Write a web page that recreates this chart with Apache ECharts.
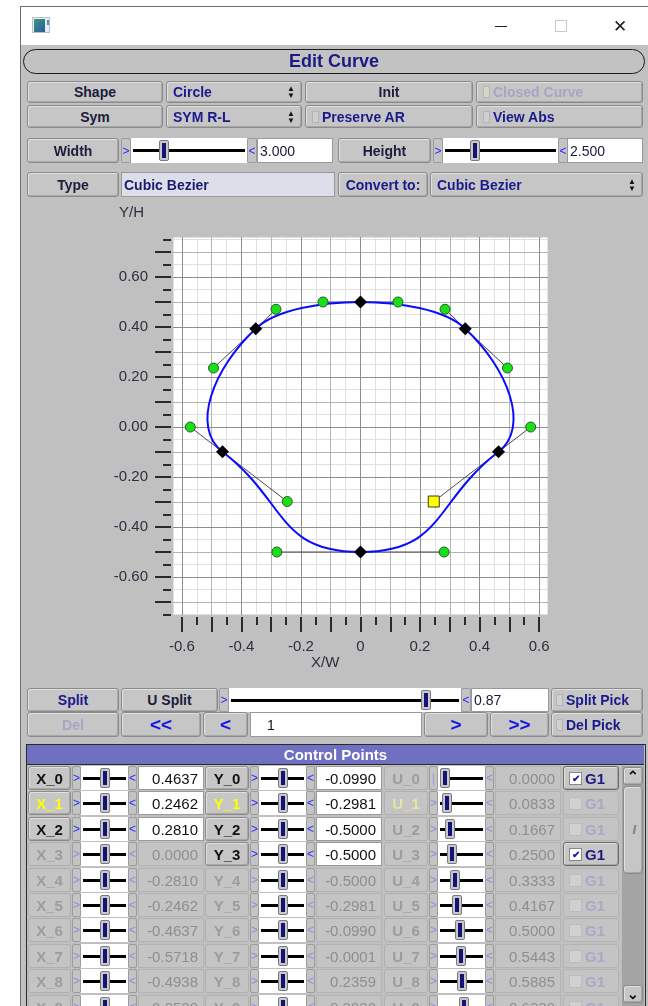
<!DOCTYPE html>
<html><head><meta charset="utf-8">
<script src="https://cdn.jsdelivr.net/npm/echarts@6/dist/echarts.min.js"></script>
<style>
html,body{margin:0;padding:0;width:648px;height:1006px;overflow:hidden;background:#fff;font-family:"Liberation Sans",Arial,sans-serif;}
#win{position:absolute;left:20px;top:6px;width:628px;height:1000px;background:#c0c0c0;border-left:1px solid #6e6e6e;border-top:1px solid #6e6e6e;box-sizing:border-box;}
#title{position:absolute;left:21px;top:7px;width:627px;height:38px;background:#fff;}
#chart{position:absolute;left:0;top:0;width:648px;height:1006px;z-index:1;}
.ui{position:absolute;z-index:2;box-sizing:border-box;white-space:nowrap;overflow:hidden;}
.btn{background:#c6c6c6;border:1px solid #8a8a8a;border-radius:3px;box-shadow:inset 1px 1px 0 #e0e0e0,inset -1px -1px 0 #a8a8a8;font-weight:bold;font-size:14px;color:#1c1c3c;display:flex;align-items:center;justify-content:center;}
.left{justify-content:flex-start;padding-left:6px;}
.blue{color:#1a1a8c;}
.dis{color:#a6a6c4;}
.field{background:#fff;border:1px solid #9a9a9a;font-size:14px;color:#111;display:flex;align-items:center;padding-left:2px;}
.arr{background:#c4c4c4;border:1px solid #9c9c9c;border-radius:2px;color:#2a2aff;font-size:12px;display:flex;align-items:center;justify-content:center;}
.track{background:#fff;}
.cb{display:inline-block;width:7px;height:12px;border:1px solid #b4b4b4;background:#cfcfcf;margin-right:3px;box-sizing:border-box;flex:none;}
.ud{position:absolute;right:6px;top:50%;transform:translateY(-50%);font-size:8px;line-height:7px;color:#111;text-align:center;}
</style></head>
<body>
<div id="win"></div>
<div id="title"></div>
<div id="chart"></div>
<script>
// ---------------- data ----------------
const ctrlX = [0.4637, 0.2462, 0.2810, 0.0000, -0.2810, -0.2462, -0.4637, -0.5718, -0.4938, -0.3520, -0.2840, -0.1260, 0.0000, 0.1260, 0.2840, 0.3520, 0.4938, 0.5718];
const ctrlY = [-0.0990, -0.2981, -0.5000, -0.5000, -0.5000, -0.2981, -0.0990, -0.0001, 0.2359, 0.3930, 0.4710, 0.5000, 0.5000, 0.5000, 0.4710, 0.3930, 0.2359, -0.0001];
const uVals = [0.0000, 0.0833, 0.1667, 0.2500, 0.3333, 0.4167, 0.5000, 0.5443, 0.5885, 0.6330];
const selectedPoint = 1;
const xTickLabels = [-0.6, -0.4, -0.2, 0, 0.2, 0.4, 0.6];
const yTickLabels = [-0.6, -0.4, -0.2, 0, 0.2, 0.4, 0.6];
const xMajorTicks = [-0.6, -0.5, -0.4, -0.3, -0.2, -0.1, 0, 0.1, 0.2, 0.3, 0.4, 0.5, 0.6];
const xMinorTicks = [-0.55, -0.45, -0.35, -0.25, -0.15, -0.05, 0.05, 0.15, 0.25, 0.35, 0.45, 0.55];
const yMajorTicks = [-0.7, -0.6, -0.5, -0.4, -0.3, -0.2, -0.1, 0, 0.1, 0.2, 0.3, 0.4, 0.5, 0.6, 0.7];
const yMinorTicks = [-0.75, -0.65, -0.55, -0.45, -0.35, -0.25, -0.15, -0.05, 0.05, 0.15, 0.25, 0.35, 0.45, 0.55, 0.65, 0.75];
const X_MIN = -0.63, X_MAX = 0.63, Y_MIN = -0.752, Y_MAX = 0.76;

// ---------------- UI chrome ----------------
function add(x, y, w, h, cls, html, css) {
  const d = document.createElement('div');
  d.className = 'ui ' + (cls || '');
  d.style.left = x + 'px'; d.style.top = y + 'px'; d.style.width = w + 'px'; d.style.height = h + 'px';
  if (html != null) d.innerHTML = html;
  if (css) d.style.cssText += css;
  document.body.appendChild(d);
  return d;
}
const UD = '<span class="ud">&#9650;<br>&#9660;</span>';
function slider(x, y, w, h, frac, opts) {
  opts = opts || {};
  const aw = opts.aw || 10;
  add(x, y, aw, h, 'arr', opts.noLeft ? '<span style="color:#9a9ae0">|</span>' : '&gt;', opts.arrCol ? 'color:' + opts.arrCol : '');
  const t = add(x + aw, y, w - 2 * aw, h, 'track');
  const tw = w - 2 * aw;
  const tx = Math.round(2 + frac * (tw - 14));
  t.innerHTML = '<div style="position:absolute;left:2px;right:2px;top:' + (h / 2 - 1.5) + 'px;height:3px;background:#000"></div>' +
    '<div style="position:absolute;left:' + tx + 'px;top:2px;width:10px;height:' + (h - 4) + 'px;background:#c8c8c8;border:1px solid #7a7a7a;border-radius:2px;box-sizing:border-box">' +
    '<div style="position:absolute;left:2px;top:2px;width:4px;bottom:2px;background:#141478"></div></div>';
  add(x + w - aw, y, aw, h, 'arr', '&lt;', opts.arrCol ? 'color:' + opts.arrCol : '');
}
// title bar
add(32, 17, 18, 16, '', '<div style="position:absolute;left:1px;top:1px;width:11px;height:13px;background:linear-gradient(135deg,#3a9a7a,#2a5aa0)"></div><div style="position:absolute;left:14px;top:2px;width:3px;height:5px;background:#5a8ab0"></div>', 'background:#e8eef0;border:1px solid #b8c0c8;');
add(495, 26, 12, 1, '', '', 'background:#222;');
add(555, 20, 12, 12, '', '', 'border:1px solid #c8c8c8;');
add(610, 16, 20, 20, '', '&#10005;', 'font-size:17px;color:#222;text-align:center;line-height:20px;font-family:"DejaVu Sans";');
// Edit curve pill
add(23, 49, 622, 25, '', 'Edit Curve', 'border:1.5px solid #1a1a1a;border-radius:13px;background:#c2c2c2;display:flex;align-items:center;justify-content:center;font-weight:bold;font-size:18px;color:#1a1a82;');
// Row 1
add(27, 81, 136, 22, 'btn', 'Shape');
add(166, 81, 136, 22, 'btn left blue', 'Circle' + UD);
add(305, 81, 168, 22, 'btn', 'Init');
add(476, 81, 167, 22, 'btn left dis', '<span class="cb" style="background:#d6d6c2"></span>Closed Curve');
// Row 2
add(27, 105, 136, 23, 'btn', 'Sym');
add(166, 105, 136, 23, 'btn left blue', 'SYM R-L' + UD);
add(305, 105, 168, 23, 'btn left blue', '<span class="cb"></span>Preserve AR');
add(476, 105, 167, 23, 'btn left blue', '<span class="cb"></span>View Abs');
// Row 3
add(27, 138, 92, 25, 'btn', 'Width');
slider(121, 138, 136, 25, 0.25);
add(257, 138, 76, 25, 'field', '3.000', 'color:#1a1a3a;');
add(338, 138, 93, 25, 'btn', 'Height');
slider(433, 138, 135, 25, 0.25);
add(567, 138, 76, 25, 'field', '2.500', 'color:#1a1a3a;');
// Row 4
add(27, 172, 92, 25, 'btn', 'Type');
add(121, 172, 214, 25, 'field', 'Cubic Bezier', 'background:#dedeea;font-weight:bold;color:#1a1a70;');
add(338, 172, 90, 25, 'btn blue', 'Convert to:');
add(430, 172, 213, 25, 'btn left blue', 'Cubic Bezier' + UD);
// Split row
add(27, 688, 92, 24, 'btn blue', 'Split');
add(121, 688, 97, 24, 'btn', 'U Split');
slider(219, 688, 252, 24, 0.87);
add(471, 688, 78, 24, 'field', '0.87', 'color:#1a1a3a;');
add(551, 688, 92, 24, 'btn left blue', '<span class="cb"></span>Split Pick', 'padding-left:4px;');
// Del row
add(27, 712, 92, 25, 'btn dis', 'Del');
add(121, 712, 80, 25, 'btn', '&lt;&lt;', 'color:#1515e0;font-size:19px;');
add(203, 712, 45, 25, 'btn', '&lt;', 'color:#1515e0;font-size:19px;');
add(250, 712, 172, 25, 'field', '1', 'padding-left:16px;color:#111;');
add(424, 712, 64, 25, 'btn', '&gt;', 'color:#1515e0;font-size:19px;');
add(490, 712, 59, 25, 'btn', '&gt;&gt;', 'color:#1515e0;font-size:19px;');
add(551, 712, 92, 25, 'btn left blue', '<span class="cb"></span>Del Pick', 'padding-left:4px;');
// Control points table
add(26, 744, 620, 264, '', '', 'border:1px solid #2a2a2a;background:#c0c0c0;');
add(27, 745, 617, 20, '', 'Control Points', 'background:#7070c2;border-bottom:1px solid #2a2a2a;color:#fff;font-weight:bold;font-size:15px;display:flex;align-items:center;justify-content:center;');
const rowState = [
  {x: 'on', y: 'on', u: 'off', g: 'chk'},
  {x: 'sel', y: 'sel', u: 'selOff', g: 'off'},
  {x: 'on', y: 'on', u: 'off', g: 'off'},
  {x: 'off', y: 'on', u: 'off', g: 'chk'},
  {x: 'off', y: 'off', u: 'off', g: 'off'},
  {x: 'off', y: 'off', u: 'off', g: 'off'},
  {x: 'off', y: 'off', u: 'off', g: 'off'},
  {x: 'off', y: 'off', u: 'off', g: 'off'},
  {x: 'off', y: 'off', u: 'off', g: 'off'},
  {x: 'off', y: 'off', u: 'off', g: 'off'}
];
function cell(x, top, lw, name, state, valStr, frac, uCol) {
  const labCol = state === 'on' ? '#111' : state === 'sel' ? '#ffff00' : state === 'selOff' ? '#e6e6a0' : '#9c9c9c';
  add(x, top, lw, 24, 'btn', name, 'color:' + labCol + ';font-size:15px;' + (state === 'off' || state === 'selOff' ? 'border-color:#b0b0b0;box-shadow:none;background:#c4c4c4;' : ''));
  const en = state === 'on' || state === 'sel';
  slider(x + lw + 1, top, 65, 24, frac, {aw: 9, arrCol: en ? '#2a2aff' : '#8c8cdc', noLeft: uCol && frac === 0});
  const vx = x + lw + 67;
  add(vx, top, 66, 24, 'field', valStr, 'justify-content:flex-end;padding-right:5px;font-size:15px;' + (en ? '' : 'background:#c4c4c4;border-color:#b4b4b4;color:#8e8e8e;'));
}
for (let i = 0; i < 10; i++) {
  const top = Math.round(766 + i * 25.4);
  const st = rowState[i];
  cell(28, top, 43, 'X_' + i, st.x, ctrlX[i].toFixed(4), 0.5, false);
  cell(205, top, 44, 'Y_' + i, st.y, ctrlY[i].toFixed(4), 0.5, false);
  cell(384, top, 44, 'U_' + i, st.u, uVals[i].toFixed(4), uVals[i] * 0.9, true);
  if (st.g === 'chk') add(563, top, 56, 24, 'btn left', '<span style="display:inline-block;width:11px;height:11px;background:#fff;border:1px solid #888;margin-right:3px;font-size:10px;line-height:11px;text-align:center;color:#1a1aa0">&#10004;</span>G1', 'color:#1a1a82;font-size:15px;padding-left:5px;border-color:#6a6a6a;');
  else add(563, top, 56, 24, 'btn left', '<span style="display:inline-block;width:11px;height:11px;background:#d0d0d0;border:1px solid #bcbcbc;margin-right:3px"></span>G1', 'color:#a8a8c8;font-size:15px;padding-left:5px;border-color:#b4b4b4;box-shadow:none;background:#c4c4c4;');
}
// scrollbar
add(622, 766, 22, 240, '', '', 'background:#a4a4a4;');
add(623, 767, 20, 18, 'btn', '&#8963;', 'font-size:14px;color:#111;');
add(623, 786, 20, 88, 'btn', '<span style="font-size:12px;color:#888;letter-spacing:-3px">///</span>', 'border-radius:4px;');
add(623, 985, 20, 18, 'btn', '&#8964;', 'font-size:14px;color:#111;');

// ---------------- chart ----------------
const N = ctrlX.length;
const segData = [], handleData = [];
for (let k = 0; k < N / 3; k++) {
  const a = 3 * k, b = a + 1, c = a + 2, d = (a + 3) % N;
  segData.push([ctrlX[a], ctrlY[a], ctrlX[b], ctrlY[b], ctrlX[c], ctrlY[c], ctrlX[d], ctrlY[d]]);
  const p = (a - 1 + N) % N;
  handleData.push([ctrlX[p], ctrlY[p], ctrlX[a], ctrlY[a], ctrlX[b], ctrlY[b]]);
}
const anchors = [], controls = [], selected = [];
for (let i = 0; i < N; i++) {
  if (i === selectedPoint) selected.push([ctrlX[i], ctrlY[i]]);
  else if (i % 3 === 0) anchors.push([ctrlX[i], ctrlY[i]]);
  else controls.push([ctrlX[i], ctrlY[i]]);
}
function gridLevel(v) {
  const k = Math.round(Math.abs(v) * 20);
  return k % 4 === 0 ? 2 : k % 2 === 0 ? 1 : 0;
}
const gridColors = ['#e0e0e0', '#b4b4b4', '#8e8e8e'];
const allX = xMajorTicks.concat(xMinorTicks), allY = yMajorTicks.concat(yMinorTicks);
function gridSeries(level) {
  const data = [];
  allX.filter(v => gridLevel(v) === level).forEach(v => data.push({coords: [[v, Y_MIN], [v, Y_MAX]]}));
  allY.filter(v => gridLevel(v) === level).forEach(v => data.push({coords: [[X_MIN, v], [X_MAX, v]]}));
  return {type: 'lines', coordinateSystem: 'cartesian2d', xAxisIndex: 0, yAxisIndex: 0, data: data, silent: true,
    z: 1 + level * 0.1, symbol: ['none', 'none'], lineStyle: {color: gridColors[level], width: 1, opacity: 1, curveness: 0}, effect: {show: false}};
}

const chart = echarts.init(document.getElementById('chart'), null, {renderer: 'canvas'});
const axisTextStyle = {fontSize: 15, color: '#2e2e3e', fontFamily: 'Liberation Sans, Arial, sans-serif'};
const noLine = {show: false, onZero: false};
chart.setOption({
  backgroundColor: 'transparent',
  animation: false,
  grid: {left: 173, top: 237, width: 375, height: 378, show: true, backgroundColor: '#ffffff', borderColor: '#c4c4c4', borderWidth: 1, containLabel: false},
  xAxis: [
    {type: 'value', min: X_MIN, max: X_MAX, position: 'bottom', offset: 2,
      axisLine: noLine, splitLine: {show: false},
      axisTick: {show: true, length: 15, customValues: xMajorTicks, lineStyle: {color: '#2a2a2a', width: 2}},
      axisLabel: Object.assign({customValues: xTickLabels, margin: 22, formatter: v => (Math.abs(v) < 1e-9 ? '0' : Number(v).toFixed(1))}, axisTextStyle)},
    {type: 'value', min: X_MIN, max: X_MAX, position: 'bottom', offset: 2,
      axisLine: noLine, splitLine: {show: false}, axisLabel: {show: false},
      axisTick: {show: true, length: 8, customValues: xMinorTicks, lineStyle: {color: '#2a2a2a', width: 2}}}
  ],
  yAxis: [
    {type: 'value', min: Y_MIN, max: Y_MAX, position: 'left', offset: 2,
      axisLine: noLine, splitLine: {show: false},
      axisTick: {show: true, length: 16, customValues: yMajorTicks, lineStyle: {color: '#2a2a2a', width: 2}},
      axisLabel: Object.assign({customValues: yTickLabels, margin: 23, formatter: v => Number(v).toFixed(2)}, axisTextStyle)},
    {type: 'value', min: Y_MIN, max: Y_MAX, position: 'left', offset: 2,
      axisLine: noLine, splitLine: {show: false}, axisLabel: {show: false},
      axisTick: {show: true, length: 8, customValues: yMinorTicks, lineStyle: {color: '#2a2a2a', width: 2}}}
  ],
  graphic: [
    {type: 'text', left: 119, top: 205, style: {text: 'Y/H', font: '15px "Liberation Sans", Arial, sans-serif', fill: '#2e2e3e'}},
    {type: 'text', left: 311, top: 655, style: {text: 'X/W', font: '15px "Liberation Sans", Arial, sans-serif', fill: '#2e2e3e'}}
  ],
  series: [
    gridSeries(0), gridSeries(1), gridSeries(2),
    {type: 'custom', name: 'handles', xAxisIndex: 0, yAxisIndex: 0, data: handleData, silent: true, z: 2,
      dimensions: ['x0', 'y0', 'x1', 'y1', 'x2', 'y2'], encode: {x: [0, 2, 4], y: [1, 3, 5]},
      renderItem: (p, api) => {
        const pts = [0, 1, 2].map(j => api.coord([api.value(2 * j), api.value(2 * j + 1)]));
        return {type: 'polyline', shape: {points: pts}, style: {stroke: '#4a4a4a', lineWidth: 1, fill: null}};
      }},
    {type: 'custom', name: 'curve', xAxisIndex: 0, yAxisIndex: 0, data: segData, silent: true, z: 3,
      dimensions: ['x0', 'y0', 'x1', 'y1', 'x2', 'y2', 'x3', 'y3'], encode: {x: [0, 2, 4, 6], y: [1, 3, 5, 7]},
      renderItem: (p, api) => {
        const q = [0, 1, 2, 3].map(j => api.coord([api.value(2 * j), api.value(2 * j + 1)]));
        return {type: 'bezierCurve', shape: {x1: q[0][0], y1: q[0][1], cpx1: q[1][0], cpy1: q[1][1], cpx2: q[2][0], cpy2: q[2][1], x2: q[3][0], y2: q[3][1]},
          style: {stroke: '#0a0aff', lineWidth: 2, fill: null}};
      }},
    {type: 'scatter', name: 'controls', data: controls, symbol: 'circle', symbolSize: 10, z: 4,
      itemStyle: {color: '#18e018', borderColor: '#2a5a2a', borderWidth: 1, opacity: 1}},
    {type: 'scatter', name: 'anchors', data: anchors, symbol: 'diamond', symbolSize: 13, z: 5,
      itemStyle: {color: '#000000', opacity: 1}},
    {type: 'scatter', name: 'selected', data: selected, symbol: 'rect', symbolSize: 11, z: 6,
      itemStyle: {color: '#ffff00', borderColor: '#3a3a2a', borderWidth: 1, opacity: 1}}
  ]
});
</script>
</body></html>
